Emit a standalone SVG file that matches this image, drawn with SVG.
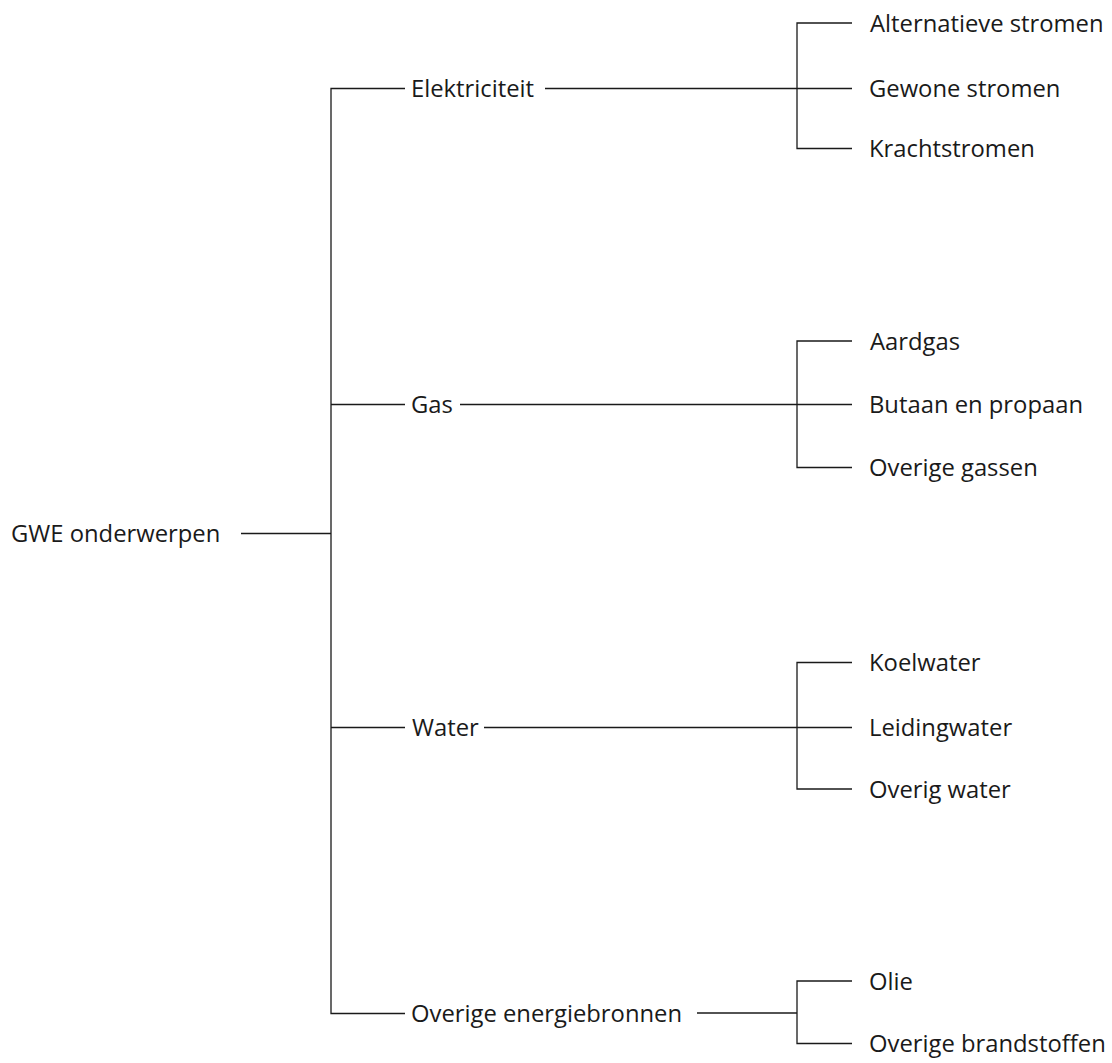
<svg xmlns="http://www.w3.org/2000/svg" width="1112" height="1063" viewBox="0 0 1112 1063">
<style>
text{font-family:"Open Sans","Noto Sans",sans-serif;font-size:23.8px;fill:#1a1a1a}
.c line,.c path{stroke:#1a1a1a;stroke-width:1.3;fill:none}
</style>
<rect width="1112" height="1063" fill="#fff"/>
<g class="c" id="connectors">
<line x1="241" y1="533.5" x2="331" y2="533.5"/>
<path d="M405 88.5H331V1013.5H405"/>
<line x1="331" y1="404.5" x2="405" y2="404.5"/>
<line x1="331" y1="727.5" x2="405" y2="727.5"/>
<line x1="545" y1="88.5" x2="797" y2="88.5"/>
<line x1="460" y1="404.5" x2="797" y2="404.5"/>
<line x1="484" y1="727.5" x2="797" y2="727.5"/>
<line x1="697" y1="1013" x2="797" y2="1013"/>
<path d="M852 23H797V148.5H852M797 88.5H852"/>
<path d="M852 341H797V467.5H852M797 404.5H852"/>
<path d="M852 662.5H797V789H852M797 727.5H852"/>
<path d="M852 981H797V1043.5H852"/>
</g>
<g id="root"><text x="11" y="542">GWE onderwerpen</text></g>
<g id="elektriciteit"><text x="411" y="97">Elektriciteit</text></g>
<g id="gas"><text x="411" y="413">Gas</text></g>
<g id="water"><text x="412" y="736">Water</text></g>
<g id="overige-energiebronnen"><text x="411" y="1021.5">Overige energiebronnen</text></g>
<g id="alternatieve"><text x="870" y="31.5">Alternatieve stromen</text></g>
<g id="gewone"><text x="869" y="97">Gewone stromen</text></g>
<g id="kracht"><text x="869" y="157">Krachtstromen</text></g>
<g id="aardgas"><text x="870" y="349.5">Aardgas</text></g>
<g id="butaan"><text x="869" y="413">Butaan en propaan</text></g>
<g id="overige-gassen"><text x="869" y="476">Overige gassen</text></g>
<g id="koelwater"><text x="869" y="671">Koelwater</text></g>
<g id="leidingwater"><text x="869" y="736">Leidingwater</text></g>
<g id="overig-water"><text x="869" y="797.5">Overig water</text></g>
<g id="olie"><text x="869" y="989.5">Olie</text></g>
<g id="overige-brandstoffen"><text x="869" y="1052">Overige brandstoffen</text></g>
</svg>
